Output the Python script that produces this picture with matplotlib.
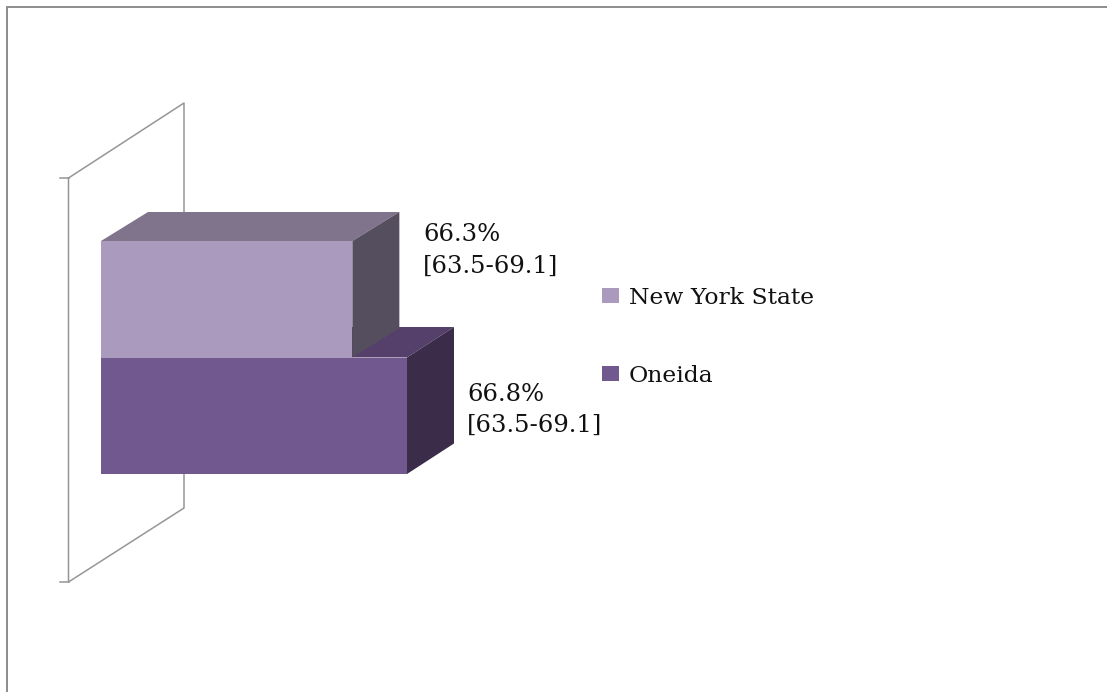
import numpy as np
import matplotlib
matplotlib.use('Agg')
import matplotlib.pyplot as plt
from matplotlib.patches import Patch, Polygon
from matplotlib.transforms import Affine2D

# prevalence with confidence interval
areas = ['Oneida', 'New York State']
values = [66.8, 66.3]
ci_low = [63.5, 63.5]
ci_high = [69.1, 69.1]
legend_order = ['New York State', 'Oneida']

front_colors = {'New York State': '#aa9abe', 'Oneida': '#71588f'}
top_colors = {'New York State': '#7f748c', 'Oneida': '#553f6b'}
side_colors = {'New York State': '#554e5e', 'Oneida': '#3b2c49'}

# depth of each box and where its label sits, in pixels from the bar end
depth_px = {'New York State': (47, 29), 'Oneida': (47, 30.5)}
label_px = {'New York State': (71, 49), 'Oneida': (60, 6)}

W, H = 1107, 692
BASE = 64.0
GREY = '#969696'
FONT = 'DejaVu Serif'
PT = 72 / 100  # points per pixel at dpi 100

plt.rcParams['font.family'] = FONT

fig = plt.figure(figsize=(W / 100, H / 100), dpi=100)
fig.patch.set_facecolor('white')

# pixel-space layer for the outer border and the back wall
bg = fig.add_axes([0, 0, 1, 1], zorder=0)
bg.set_xlim(0, W)
bg.set_ylim(H, 0)
bg.axis('off')
bg.plot([7, 7, W], [H, 7, 7], color='#8c8c8c', lw=1.4, solid_joinstyle='miter')
bg.plot([68.5, 184, 184, 68.5, 68.5], [178, 103, 508, 582, 178], color=GREY, lw=1.1)
bg.plot([60, 68.5], [178, 178], color=GREY, lw=1.1)
bg.plot([60, 68.5], [582, 582], color=GREY, lw=1.1)

# bars axes: left edge is the axis base, right edge is the largest value
left, right, top, bottom = 101, 407, 241, 474
ax = fig.add_axes([left / W, 1 - bottom / H, (right - left) / W, (bottom - top) / H], zorder=1)
ax.set_xlim(BASE, max(values))
ax.set_ylim(-0.5, 1.5)
ax.axis('off')

# lower bar first, the upper one sits on top of it
for i, area in enumerate(areas):
    v = values[i]
    y0, y1 = i - 0.5, i + 0.5
    ax.barh(i, v - BASE, left=BASE, height=1, color=front_colors[area], lw=0, zorder=3 + 2 * i)

    # top face and side face share the front edges and are pushed back by the depth
    depth = ax.transData + Affine2D().translate(*depth_px[area])
    p0 = ax.transData.transform([(BASE, y1), (v, y1), (v, y0)])
    p1 = depth.transform([(BASE, y1), (v, y1), (v, y0)])
    top_face = [p0[0], p0[1], p1[1], p1[0]]
    side_face = [p0[1], p1[1], p1[2], p0[2]]
    ax.add_patch(Polygon(top_face, closed=True, transform=None, fc=top_colors[area], ec='none', zorder=2 + 2 * i, clip_on=False))
    ax.add_patch(Polygon(side_face, closed=True, transform=None, fc=side_colors[area], ec='none', zorder=2 + 2 * i, clip_on=False))

    label = '%.1f%%\n[%.1f-%.1f]' % (v, ci_low[i], ci_high[i])
    dx, dy = label_px[area]
    ax.annotate(label, xy=(v, i), xytext=(dx * PT, dy * PT), textcoords='offset points',
                ha='left', va='center', fontsize=17.5, color='#111111', linespacing=1.46,
                annotation_clip=False, zorder=20)

handles = [Patch(fc=front_colors[a], ec='none', label=a) for a in legend_order]
fig.legend(handles=handles, loc='upper left', bbox_to_anchor=(602 / W, 1 - 287 / H),
           bbox_transform=fig.transFigure, frameon=False, fontsize=16.9, labelcolor='#111111',
           handlelength=0.72, handleheight=0.63, handletextpad=0.43, labelspacing=2.38,
           borderpad=0, borderaxespad=0)

fig.savefig('out.png', dpi=100)
